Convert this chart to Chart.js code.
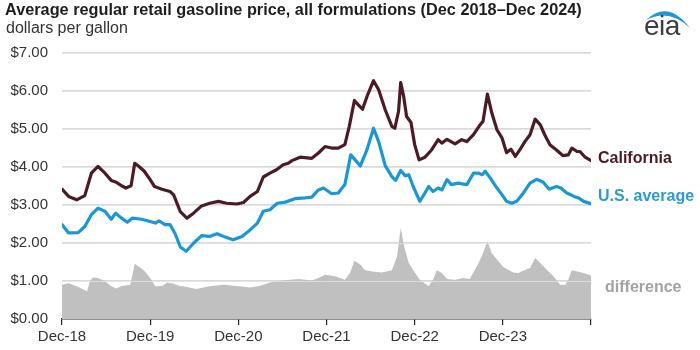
<!DOCTYPE html>
<html>
<head>
<meta charset="utf-8">
<script src="https://cdn.jsdelivr.net/npm/chart.js@4.4.1/dist/chart.umd.min.js"></script>
<style>
  html, body { margin: 0; padding: 0; background: #fff; }
  #wrap { position: relative; width: 700px; height: 350px; overflow: hidden; font-family: "Liberation Sans", Arial, sans-serif; }
  #c { position: absolute; left: 0; top: 0; }
  .t { position: absolute; white-space: nowrap; }
  #title { left: 5px; top: 1px; font-size: 16.3px; line-height: 16.3px; font-weight: bold; color: #1e1e1e; }
  #sub { left: 6px; top: 20px; font-size: 16px; line-height: 16px; color: #333; }
  #ca { left: 598px; top: 150px; font-size: 16px; line-height: 16px; font-weight: bold; color: #4b1c24; }
  #us { left: 598px; top: 188px; font-size: 16px; line-height: 16px; font-weight: bold; color: #2a9ad6; }
  #df { left: 605px; top: 279px; font-size: 16px; line-height: 16px; font-weight: bold; color: #a3a3a3; }
  #eia { left: 644px; top: 12px; font-size: 28px; line-height: 28px; color: #3d3d3d; letter-spacing: -0.5px; }
  #arc { position: absolute; left: 640px; top: 0px; }
</style>
</head>
<body>
<div id="wrap">
  <canvas id="c" width="700" height="350"></canvas>
  <div class="t" id="title">Average regular retail gasoline price, all formulations (Dec 2018–Dec 2024)</div>
  <div class="t" id="sub">dollars per gallon</div>
  <div class="t" id="ca">California</div>
  <div class="t" id="us">U.S. average</div>
  <div class="t" id="df">difference</div>
  <svg id="arc" width="56" height="32"><path d="M6 20 Q28 -1 50 28 Q29 8 6 20 Z" fill="#1a98d5"/></svg>
  <div class="t" id="eia">eia</div>
</div>
<script>
// months since Dec 2018
const xTickLabels = ["Dec-18", "Dec-19", "Dec-20", "Dec-21", "Dec-22", "Dec-23", ""];
const yTickValues = [0, 1, 2, 3, 4, 5, 6, 7];

const caMonths = [0,0.9,2.0,3.1,4.0,4.9,5.85,6.7,7.4,8.1,8.7,9.4,9.9,10.4,11.2,12.0,12.6,13.6,14.7,15.2,16.1,17.0,17.9,19.0,20.1,21.3,22.4,23.8,24.7,25.6,26.6,27.4,28.3,29.2,30.1,30.8,31.3,32.4,34.0,34.9,35.8,36.7,37.6,38.5,39.1,39.8,40.3,40.9,41.6,42.4,43.1,44.0,44.9,45.3,45.8,46.1,46.5,46.9,47.5,48.0,48.6,49.4,50.3,51.2,51.7,52.4,53.5,54.4,55.1,56.0,56.9,57.3,57.9,58.5,59.2,59.9,60.5,61.1,61.7,62.3,63.0,63.7,64.4,65.1,65.7,66.4,67.3,68.2,68.9,69.4,70.1,70.5,71.2,72];
const caValues = [3.41,3.22,3.13,3.24,3.83,4.01,3.83,3.64,3.59,3.50,3.44,3.50,4.09,4.02,3.88,3.66,3.48,3.41,3.35,3.26,2.82,2.65,2.78,2.97,3.04,3.09,3.04,3.02,3.06,3.22,3.35,3.73,3.83,3.92,4.05,4.09,4.16,4.25,4.22,4.36,4.53,4.49,4.49,4.58,5.06,5.74,5.63,5.51,5.89,6.26,6.02,5.49,5.06,5.01,5.45,6.21,5.85,5.32,5.16,4.58,4.18,4.25,4.44,4.71,4.62,4.72,4.60,4.71,4.66,4.84,5.10,5.19,5.91,5.41,4.97,4.75,4.37,4.46,4.27,4.44,4.66,4.84,5.25,5.10,4.84,4.58,4.44,4.29,4.31,4.49,4.40,4.40,4.25,4.16];

const usMonths = [0,0.9,2.2,3.1,4.0,4.9,5.85,6.7,7.3,8.1,8.9,9.6,10.8,12.0,12.7,13.2,14.0,14.7,15.4,16.1,16.9,17.9,19.0,20.1,21.1,22.0,23.3,24.5,25.6,26.6,27.4,28.3,29.3,30.4,31.7,33.1,34.0,34.9,35.6,36.7,37.6,38.5,39.3,39.9,40.6,41.5,42.4,43.1,44.0,44.9,45.4,46.1,46.7,47.2,47.8,48.7,49.4,49.9,50.5,51.2,51.7,52.4,53.0,53.9,55.1,56.0,56.7,57.2,57.6,58.3,59.2,59.9,60.5,61.2,61.9,62.8,63.7,64.6,65.5,66.3,67.3,67.9,68.7,69.7,70.3,71.0,72];
const usValues = [2.48,2.26,2.27,2.43,2.74,2.91,2.83,2.62,2.78,2.65,2.54,2.65,2.62,2.56,2.52,2.58,2.48,2.48,2.24,1.89,1.78,1.99,2.19,2.17,2.24,2.17,2.08,2.17,2.34,2.52,2.83,2.87,3.04,3.07,3.16,3.18,3.20,3.39,3.44,3.29,3.31,3.53,4.31,4.18,4.02,4.44,5.01,4.66,4.02,3.74,3.64,3.90,3.76,3.79,3.48,3.09,3.31,3.48,3.35,3.44,3.39,3.66,3.53,3.57,3.53,3.83,3.83,3.79,3.88,3.70,3.44,3.26,3.09,3.04,3.09,3.31,3.57,3.67,3.59,3.41,3.48,3.44,3.31,3.22,3.18,3.09,3.03];

const diffMonths = [0,0.9,2.0,3.4,3.8,4.2,4.9,5.85,6.7,7.4,8.1,9.3,9.9,10.6,11.3,12.0,12.7,13.6,14.3,15.1,16.1,16.5,18.3,20.1,22.0,23.8,25.6,26.9,28.3,30.1,32.2,34.0,34.9,35.8,37.2,38.5,39.2,39.8,40.6,41.2,42.2,43.5,44.9,45.6,46.1,46.6,47.2,47.8,48.7,49.9,50.5,51.0,51.7,52.4,53.5,54.6,55.5,56.7,57.3,57.9,58.5,59.2,60.1,60.8,61.4,62.1,63.0,63.7,64.4,65.1,66.0,66.9,67.8,68.5,68.9,69.4,70.1,71.0,72];
const diffValues = [0.90,0.94,0.86,0.73,0.99,1.09,1.08,0.99,0.86,0.80,0.87,0.90,1.45,1.36,1.25,1.08,0.86,0.87,0.96,0.93,0.86,0.86,0.79,0.86,0.90,0.87,0.83,0.87,0.96,1.01,1.05,1.01,1.08,1.16,1.12,1.03,1.21,1.53,1.43,1.29,1.25,1.22,1.28,1.64,2.39,1.88,1.47,1.29,1.03,0.86,1.03,1.28,1.21,1.05,1.03,1.08,1.05,1.47,1.73,2.04,1.73,1.56,1.36,1.29,1.22,1.21,1.29,1.34,1.60,1.47,1.29,1.12,0.90,0.90,1.03,1.28,1.25,1.21,1.14];

const pairs = (xs, ys) => xs.map((x, i) => ({ x: x, y: ys[i] }));

const gridOverFill = {
  id: 'gridOverFill',
  afterDatasetDraw(chart, args) {
    if (args.index !== 2) return;
    const ctx = chart.ctx, ya = chart.scales.y, area = chart.chartArea;
    ctx.save();
    ctx.strokeStyle = 'rgba(225,225,225,0.85)';
    ctx.lineWidth = 1;
    yTickValues.forEach(v => {
      if (v === 0) return;
      const py = Math.round(ya.getPixelForValue(v)) + 0.5;
      ctx.beginPath(); ctx.moveTo(area.left, py); ctx.lineTo(area.right, py); ctx.stroke();
    });
    ctx.restore();
  }
};

new Chart(document.getElementById('c'), {
  type: 'line',
  data: {
    datasets: [
      { label: 'California', data: pairs(caMonths, caValues), borderColor: '#4b1c24', borderWidth: 3.2, borderJoinStyle: 'round', borderCapStyle: 'round', pointRadius: 0, tension: 0, fill: false },
      { label: 'U.S. average', data: pairs(usMonths, usValues), borderColor: '#1a98d5', borderWidth: 3.2, borderJoinStyle: 'round', borderCapStyle: 'round', pointRadius: 0, tension: 0, fill: false },
      { label: 'difference', data: pairs(diffMonths, diffValues), borderColor: '#bfbfbf', borderWidth: 0, pointRadius: 0, tension: 0, fill: 'origin', backgroundColor: '#c0c0c0' }
    ]
  },
  options: {
    responsive: false,
    animation: false,
    events: [],
    layout: { padding: { top: 52.5, right: 109, left: 0, bottom: 0 } },
    plugins: { legend: { display: false }, tooltip: { enabled: false } },
    scales: {
      x: {
        type: 'linear', min: 0, max: 72,
        afterBuildTicks: (s) => { s.ticks = [0,12,24,36,48,60,72].map(v => ({ value: v })); },
        afterFit: (s) => { s.height = 31; },
        ticks: {
          autoSkip: false, maxRotation: 0, padding: 3,
          font: { family: 'Liberation Sans', size: 15 }, color: '#333',
          callback: (v) => xTickLabels[v / 12]
        },
        grid: { display: true, drawOnChartArea: false, drawTicks: true, tickLength: 6, color: '#222', lineWidth: 1.2 },
        border: { display: true, color: '#222', width: 1.5 }
      },
      y: {
        min: 0, max: 7,
        afterBuildTicks: (s) => { s.ticks = yTickValues.map(v => ({ value: v })); },
        afterFit: (s) => { s.width = 62; },
        ticks: {
          padding: 14,
          font: { family: 'Liberation Sans', size: 15 }, color: '#333',
          callback: (v) => '$' + v.toFixed(2)
        },
        grid: { color: (c) => c.tick.value === 0 ? 'rgba(0,0,0,0)' : '#d9d9d9', lineWidth: 1, drawTicks: false },
        border: { display: false }
      }
    }
  },
  plugins: [gridOverFill]
});
</script>
</body>
</html>
